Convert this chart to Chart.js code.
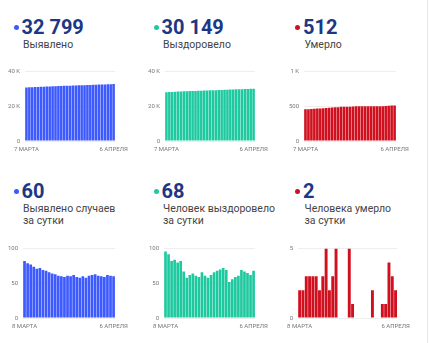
<!DOCTYPE html>
<html>
<head>
<meta charset="utf-8">
<script src="https://cdn.jsdelivr.net/npm/chart.js@4"></script>
<style>
  body { margin: 0; background: #fff; font-family: Roboto, sans-serif; }
  #wrap { position: relative; width: 430px; height: 343px; overflow: hidden; }
  .num { position: absolute; font-size: 20px; line-height: 20px; font-weight: 700; color: #1c3783; white-space: nowrap; }
  .lbl { position: absolute; font-size: 10.5px; line-height: 12.3px; color: #444; white-space: nowrap; }
  .dot { position: absolute; width: 5px; height: 5px; border-radius: 50%; }
  canvas { position: absolute; }
  .sep { position: absolute; left: 427px; top: 0; width: 1px; height: 343px; background: #e8e8e8; }
</style>
</head>
<body>
<div id="wrap">
  <div class="sep"></div>
</div>
<script>
// даты
const days = ["7 МАРТА", "8 МАРТА", "9 МАРТА", "10 МАРТА", "11 МАРТА", "12 МАРТА", "13 МАРТА", "14 МАРТА",
  "15 МАРТА", "16 МАРТА", "17 МАРТА", "18 МАРТА", "19 МАРТА", "20 МАРТА", "21 МАРТА", "22 МАРТА",
  "23 МАРТА", "24 МАРТА", "25 МАРТА", "26 МАРТА", "27 МАРТА", "28 МАРТА", "29 МАРТА", "30 МАРТА",
  "31 МАРТА", "1 АПРЕЛЯ", "2 АПРЕЛЯ", "3 АПРЕЛЯ", "4 АПРЕЛЯ", "5 АПРЕЛЯ", "6 АПРЕЛЯ"];
const daysDaily = days.slice(1);

// всего
const cases = [30867, 30949, 31028, 31105, 31179, 31250, 31322, 31391, 31459, 31525, 31589, 31652,
  31713, 31773, 31832, 31893, 31953, 32015, 32074, 32132, 32192, 32250, 32311, 32373, 32436, 32497,
  32557, 32616, 32678, 32739, 32799];
const recovered = [28111, 28207, 28299, 28381, 28465, 28545, 28627, 28694, 28752, 28814, 28878, 28939,
  28998, 29064, 29125, 29183, 29245, 29311, 29379, 29449, 29521, 29590, 29642, 29698, 29757, 29818,
  29887, 29954, 30019, 30081, 30149];
const deaths = [457, 459, 461, 464, 467, 470, 473, 475, 478, 483, 485, 488, 493, 493, 493, 493, 498,
  499, 499, 499, 499, 499, 499, 501, 501, 501, 502, 503, 507, 510, 512];

// за сутки
const casesDaily = [82, 79, 77, 74, 71, 72, 69, 68, 66, 64, 63, 61, 60, 59, 61, 60, 62, 59, 58, 60,
  58, 61, 62, 63, 61, 60, 59, 62, 61, 60];
const recoveredDaily = [96, 92, 82, 84, 80, 82, 67, 58, 62, 64, 61, 59, 66, 61, 58, 62, 66, 68, 70, 72,
  69, 52, 56, 59, 61, 69, 67, 65, 62, 68];
const deathsDaily = [2, 2, 3, 3, 3, 3, 2, 3, 5, 2, 3, 5, 0, 0, 0, 5, 1, 0, 0, 0, 0, 0, 2, 0, 0, 1, 1,
  4, 3, 2];

const BLUE = "#3d5afe", GREEN = "#1fc9a0", RED = "#d0101e";
const wrap = document.getElementById("wrap");

function kFmt(v) {
  return v >= 1000 ? v / 1000 + " K" : String(v);
}

function header(x, y, color, value, lines) {
  const dot = document.createElement("div");
  dot.className = "dot";
  dot.style.left = (x + 13.5) + "px";
  dot.style.top = (y + 8) + "px";
  dot.style.background = color;
  wrap.appendChild(dot);

  const num = document.createElement("div");
  num.className = "num";
  num.style.left = (x + 21.5) + "px";
  num.style.top = y + "px";
  num.textContent = value;
  wrap.appendChild(num);

  const lbl = document.createElement("div");
  lbl.className = "lbl";
  lbl.style.left = (x + 23) + "px";
  lbl.style.top = (y + 22) + "px";
  lbl.innerHTML = lines.join("<br>");
  wrap.appendChild(lbl);
}

function bars(areaLeft, areaW, top, areaH, labels, data, color, max, step) {
  const yw = 18, pr = 16;
  const cv = document.createElement("canvas");
  cv.width = yw + areaW + pr;
  cv.height = 6 + areaH + 16;
  cv.style.left = (areaLeft - yw) + "px";
  cv.style.top = (top - 6) + "px";
  wrap.appendChild(cv);

  new Chart(cv, {
    type: "bar",
    data: {
      labels: labels,
      datasets: [{
        data: data,
        backgroundColor: color,
        categoryPercentage: 1,
        barPercentage: 0.88
      }]
    },
    options: {
      responsive: false,
      animation: false,
      layout: { padding: { top: 6, right: pr, left: 0, bottom: 0 } },
      plugins: { legend: { display: false }, tooltip: { enabled: false } },
      scales: {
        x: {
          grid: { display: false, drawTicks: false },
          border: { display: false },
          afterFit: s => { s.height = 16; },
          ticks: {
            autoSkip: false,
            maxRotation: 0,
            padding: 5,
            color: "#777",
            font: { family: "Roboto", size: 6 },
            callback: function (v, i, t) {
              return i === 0 || i === t.length - 1 ? this.getLabelForValue(v) : "";
            }
          }
        },
        y: {
          min: 0,
          max: max,
          grid: { color: "#eeeeee", drawTicks: false },
          border: { display: false },
          afterFit: s => { s.width = yw; },
          ticks: {
            stepSize: step,
            padding: 5,
            color: "#777",
            font: { family: "Roboto", size: 6 },
            callback: kFmt
          }
        }
      }
    }
  });
}

header(0, 16.5, BLUE, "32 799", ["Выявлено"]);
header(140, 16.5, GREEN, "30 149", ["Выздоровело"]);
header(281.5, 16.5, RED, "512", ["Умерло"]);
header(0, 180.5, BLUE, "60", ["Выявлено случаев", "за сутки"]);
header(140, 180.5, GREEN, "68", ["Человек выздоровело", "за сутки"]);
header(281.5, 180.5, RED, "2", ["Человека умерло", "за сутки"]);

bars(25, 92.3, 69.3, 72.7, days, cases, BLUE, 40000, 20000);
bars(165, 92.3, 69.3, 72.7, days, recovered, GREEN, 40000, 20000);
bars(304, 94.3, 69.3, 72.7, days, deaths, RED, 1000, 500);
bars(23.3, 94.4, 246, 72.7, daysDaily, casesDaily, BLUE, 100, 50);
bars(164, 93.3, 246, 72.7, daysDaily, recoveredDaily, GREEN, 100, 50);
bars(297.7, 101, 246, 72.7, daysDaily, deathsDaily, RED, 5, 5);
</script>
</body>
</html>
